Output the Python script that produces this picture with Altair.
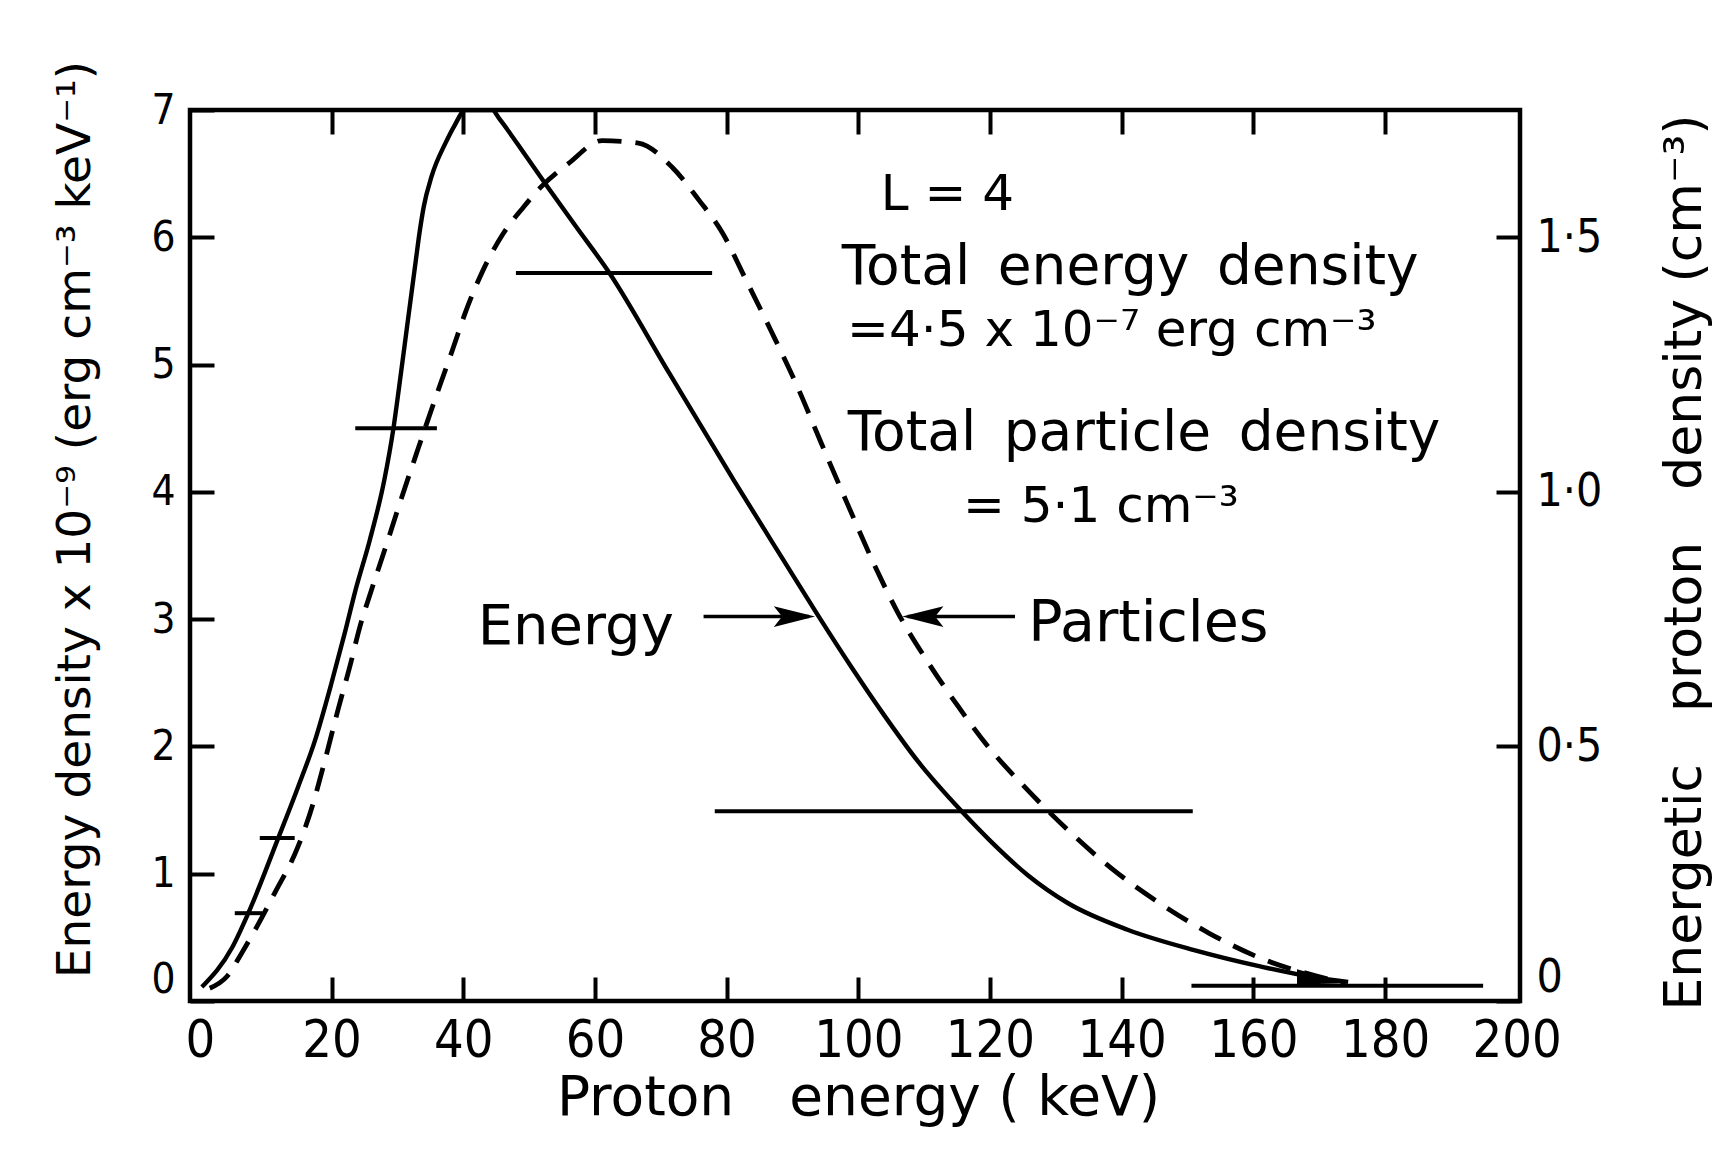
import altair as alt
import pandas as pd

# ---------------- data ----------------
# Energy density (x10^-9 erg cm^-3 keV^-1), solid curve
energy_kev = [0.3, 4.9, 7.35, 11.9, 14.9, 17.5, 20.0, 22.0, 23.6, 25.8, 28.0,
              29.4, 30.2, 31.6, 32.8, 33.4, 34.0, 35.2, 37.3, 38.7, 40.3, 44.4,
              45.5, 49.5, 52.9, 56.9, 62.2, 71.2, 81.1, 88.8, 94.0, 99.0, 104.0,
              109.1, 115.7, 120.2, 125.7, 131.8, 140.9, 151.0, 161.2, 168.8, 174.4]
energy_val = [0.11, 0.42, 0.69, 1.28, 1.68, 2.05, 2.50, 2.89, 3.22, 3.62, 4.09,
              4.50, 4.80, 5.35, 5.82, 6.05, 6.24, 6.48, 6.74, 6.88, 7.00, 7.00,
              6.93, 6.64, 6.39, 6.10, 5.72, 4.94, 4.09, 3.45, 3.02, 2.62, 2.24,
              1.88, 1.49, 1.25, 0.99, 0.77, 0.56, 0.40, 0.27, 0.19, 0.15]

# Energetic proton density (cm^-3), dashed curve
particle_kev = [1.5, 4.1, 6.3, 8.4, 11.4, 14.9, 17.2, 19.0, 21.0, 22.8, 24.3, 26.0,
                28.3, 30.5, 33.1, 35.8, 38.4, 40.4, 43.0, 46.1, 49.2, 51.9, 56.0,
                61.1, 66.6, 71.7, 75.8, 79.4, 82.8, 86.8, 90.8, 94.4, 98.4, 102.5,
                106.0, 110.6, 115.2, 119.7, 125.3, 131.9, 138.5, 145.1, 153.3,
                161.9, 169.9, 174.0]
particle_val = [0.025, 0.048, 0.093, 0.140, 0.213, 0.303, 0.388, 0.473, 0.573, 0.658,
                0.735, 0.805, 0.895, 0.983, 1.083, 1.185, 1.280, 1.355, 1.435, 1.508,
                1.560, 1.600, 1.645, 1.690, 1.685, 1.638, 1.573, 1.508, 1.420, 1.315,
                1.205, 1.095, 0.975, 0.855, 0.763, 0.665, 0.578, 0.500, 0.420, 0.335,
                0.260, 0.198, 0.133, 0.080, 0.048, 0.035]

# Horizontal bin bars (energy units)
bar_x0 = [5.3, 9.1, 23.6, 48.0, 78.2, 150.6]
bar_x1 = [9.5, 14.4, 36.0, 77.8, 150.8, 194.9]
bar_y = [0.69, 1.28, 4.50, 5.72, 1.49, 0.12]

# Label arrows
arrow_x0 = [76.5, 107.5]
arrow_x1 = [92.5, 123.8]
arrow_y = [3.02, 3.02]
head_right_x = [90.3]
head_right_y = [3.02]
head_left_x = [109.8]
head_left_y = [3.02]
tail_head_x = [170.5]
tail_head_y = [0.19]

# Annotations
note_text = ["L = 4", "Total\u2002energy\u2002density", "=4·5 x 10⁻⁷ erg cm⁻³",
             "Total\u2002particle\u2002density", "= 5·1 cm⁻³", "Energy", "Particles"]
note_x = [103.4, 97.5, 98.3, 98.4, 115.9, 42.2, 125.8]
note_y = [6.33, 5.77, 5.26, 4.46, 3.88, 2.94, 2.96]
note_size = [50, 55, 50, 55, 50, 56, 57]

x_labels = [0, 20, 40, 60, 80, 100, 120, 140, 160, 180, 200]
x_ticks = [20, 40, 60, 80, 100, 120, 140, 160, 180]
y_left_ticks = [0, 1, 2, 3, 4, 5, 6, 7]
y_right_ticks = [0, 0.5, 1.0, 1.5]

# ---------------- chart ----------------
W, H = 1330, 891
TICK_FONT = "Liberation Sans Narrow, DejaVu Sans Condensed, sans-serif"
TEXT_FONT = "DejaVu Sans"
inward = alt.ExprRef(expr="-24")
zero_baseline = {"condition": {"test": "datum.value == 0", "value": "bottom"},
                 "value": "middle"}

xs = alt.Scale(domain=[-1.5, 200.5], nice=False, zero=False)
yE = alt.Scale(domain=[0, 7], nice=False, zero=False)
yP = alt.Scale(domain=[0, 1.75], nice=False, zero=False)

energy_df = pd.DataFrame({"kev": energy_kev, "val": energy_val})
particle_df = pd.DataFrame({"kev": particle_kev, "val": particle_val})
bars_df = pd.DataFrame({"x0": bar_x0, "x1": bar_x1, "y": bar_y})
arrows_df = pd.DataFrame({"x0": arrow_x0, "x1": arrow_x1, "y": arrow_y})
hr_df = pd.DataFrame({"x": head_right_x, "y": head_right_y})
hl_df = pd.DataFrame({"x": head_left_x, "y": head_left_y})
tail_df = pd.DataFrame({"x": tail_head_x, "y": tail_head_y})
notes_df = pd.DataFrame({"x": note_x, "y": note_y, "t": note_text, "fs": note_size})

energy = alt.Chart(energy_df).mark_line(
    color="black", strokeWidth=4.4, interpolate="monotone", clip=True
).encode(
    x=alt.X("kev:Q", scale=xs, axis=alt.Axis(
        orient="bottom", values=x_labels, ticks=False, domain=False, grid=False,
        labelFont=TICK_FONT, labelFontSize=52, labelColor="black", labelPadding=14,
        labelFlush=False,
        title="Proton\u2003energy ( keV)", titleFont=TEXT_FONT, titleFontSize=55,
        titleFontWeight="normal", titleColor="black", titleX=668, titleY=96,
        titleBaseline="middle", titleAlign="center")),
    y=alt.Y("val:Q", scale=yE, axis=alt.Axis(
        orient="left", values=y_left_ticks, tickSize=inward, tickWidth=4,
        tickColor="black", domain=False, grid=False,
        labelFont=TICK_FONT, labelFontSize=42, labelColor="black", labelPadding=39,
        labelBaseline=zero_baseline,
        title="Energy density x 10⁻⁹ (erg cm⁻³ keV⁻¹)", titleFont=TEXT_FONT,
        titleFontSize=47, titleFontWeight="normal", titleColor="black",
        titleAngle=270, titleX=-115, titleY=409, titleBaseline="middle",
        titleAlign="center")),
)

particles = alt.Chart(particle_df).mark_line(
    color="black", strokeWidth=4.8, strokeDash=[24, 14], interpolate="monotone", clip=True
).encode(
    x=alt.X("kev:Q", scale=xs, axis=None),
    y=alt.Y("val:Q", scale=yP, axis=alt.Axis(
        orient="right", values=y_right_ticks, tickSize=inward, tickWidth=4,
        tickColor="black", domain=False, grid=False,
        labelExpr="datum.value == 0 ? '0' : replace(format(datum.value, '.1f'), '.', '·')",
        labelFont=TICK_FONT, labelFontSize=46, labelColor="black", labelPadding=40,
        labelBaseline=zero_baseline,
        title="Energetic\u2003proton\u2003density (cm⁻³)", titleFont=TEXT_FONT,
        titleFontSize=52, titleFontWeight="normal", titleColor="black",
        titleAngle=270, titleX=164, titleY=452, titleBaseline="middle",
        titleAlign="center")),
)

bars = alt.Chart(bars_df).mark_rule(color="black", strokeWidth=4).encode(
    x=alt.X("x0:Q", scale=xs, axis=alt.Axis(
        orient="top", values=x_ticks, labels=False, domain=False, grid=False,
        tickSize=inward, tickWidth=4, tickColor="black", title=None)),
    x2="x1:Q",
    y=alt.Y("y:Q", scale=yE, axis=None),
)

arrows = alt.Chart(arrows_df).mark_rule(color="black", strokeWidth=3.5).encode(
    x=alt.X("x0:Q", scale=xs, axis=alt.Axis(
        orient="bottom", values=x_ticks, labels=False, domain=False, grid=False,
        tickSize=inward, tickWidth=4, tickColor="black", title=None)),
    x2="x1:Q",
    y=alt.Y("y:Q", scale=yE, axis=None),
)

heads_r = alt.Chart(hr_df).mark_point(
    shape="M-1,-0.5L1,0L-1,0.5L-0.6,0Z", filled=True, color="black", opacity=1,
    size=1700
).encode(
    x=alt.X("x:Q", scale=xs, axis=None),
    y=alt.Y("y:Q", scale=yE, axis=None),
)

heads_l = alt.Chart(hl_df).mark_point(
    shape="M1,-0.5L-1,0L1,0.5L0.6,0Z", filled=True, color="black", opacity=1,
    size=1700
).encode(
    x=alt.X("x:Q", scale=xs, axis=None),
    y=alt.Y("y:Q", scale=yE, axis=None),
)

tail_head = alt.Chart(tail_df).mark_point(
    shape="M-1,-0.3L1,0.25L-1,0.3Z", filled=True, color="black", opacity=1,
    size=2600
).encode(
    x=alt.X("x:Q", scale=xs, axis=None),
    y=alt.Y("y:Q", scale=yE, axis=None),
)

notes = alt.Chart(notes_df).mark_text(
    font=TEXT_FONT, align="left", baseline="middle", color="black"
).encode(
    x=alt.X("x:Q", scale=xs, axis=None),
    y=alt.Y("y:Q", scale=yE, axis=None),
    text="t:N",
    size=alt.Size("fs:Q", scale=None, legend=None),
)

chart = alt.layer(
    energy, particles, bars, arrows, heads_r, heads_l, tail_head, notes
).resolve_scale(
    x="shared", y="independent"
).resolve_axis(
    x="independent", y="independent"
).properties(
    width=W, height=H,
    autosize=alt.AutoSizeParams(type="none"),
    padding={"left": 182, "top": 102, "right": 192, "bottom": 140},
    background="white",
).configure_view(
    stroke="black", strokeWidth=4.5
)

chart.save("out.html", embed_options={"renderer": "svg", "actions": False})
